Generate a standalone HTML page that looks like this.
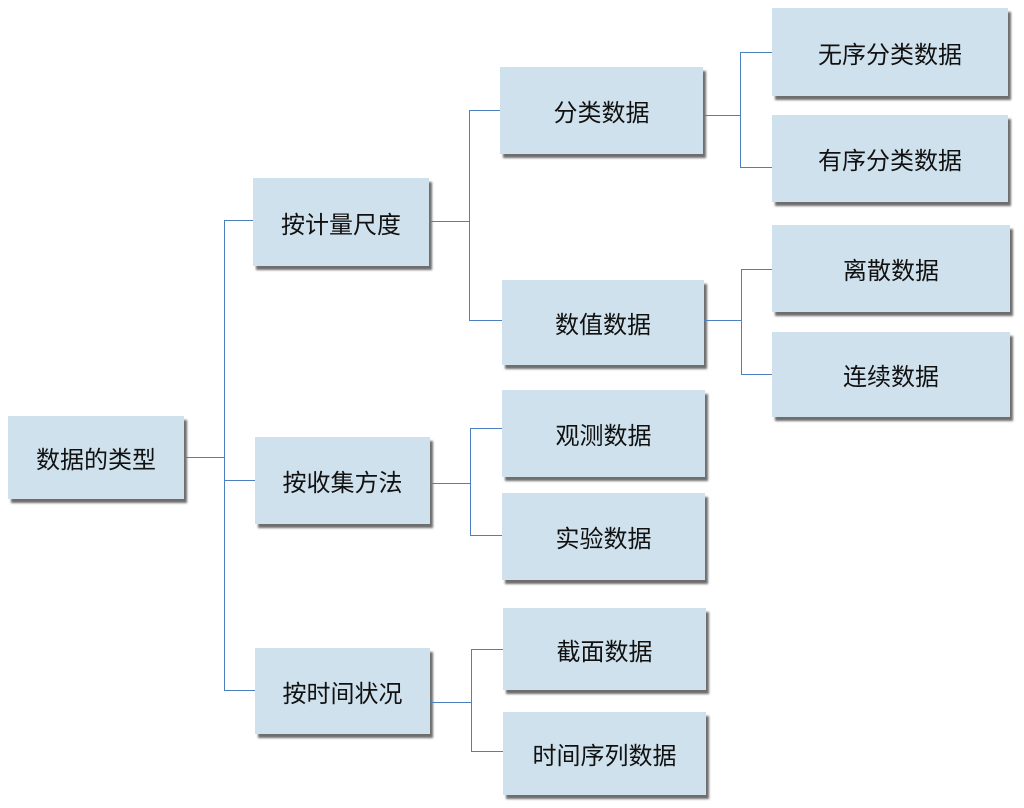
<!DOCTYPE html>
<html><head><meta charset="utf-8"><style>
html,body{margin:0;padding:0;background:#fff;}
body{width:1024px;height:808px;position:relative;overflow:hidden;font-family:"Liberation Sans","Noto Sans CJK SC",sans-serif;}
.b{position:absolute;background:#cfe1ec;box-shadow:3px 4px 2px #6e6e6e;display:flex;align-items:center;justify-content:center;font-size:24px;color:#111;box-sizing:border-box;}
.l{position:absolute;background:#4a7fc0;}
.h{height:1px}.v{width:1px}
</style></head><body>
<div class="b" style="left:8px;top:416px;width:176px;height:83px;">数据的类型</div>
<div class="b" style="left:253px;top:178px;width:176px;height:88px;">按计量尺度</div>
<div class="b" style="left:255px;top:437px;width:175px;height:87px;">按收集方法</div>
<div class="b" style="left:255px;top:648px;width:175px;height:86px;">按时间状况</div>
<div class="b" style="left:500px;top:67px;width:203px;height:87px;">分类数据</div>
<div class="b" style="left:502px;top:280px;width:202px;height:85px;">数值数据</div>
<div class="b" style="left:502px;top:390px;width:203px;height:87px;">观测数据</div>
<div class="b" style="left:502px;top:493px;width:203px;height:87px;">实验数据</div>
<div class="b" style="left:503px;top:608px;width:203px;height:82px;">截面数据</div>
<div class="b" style="left:503px;top:712px;width:203px;height:83px;">时间序列数据</div>
<div class="b" style="left:772px;top:8px;width:236px;height:88px;">无序分类数据</div>
<div class="b" style="left:772px;top:115px;width:236px;height:87px;">有序分类数据</div>
<div class="b" style="left:772px;top:225px;width:238px;height:87px;">离散数据</div>
<div class="b" style="left:772px;top:332px;width:238px;height:85px;">连续数据</div>

<div class="l h" style="left:184px;top:457px;width:40px"></div>
<div class="l v" style="left:224px;top:220px;height:470px"></div>
<div class="l h" style="left:224px;top:220px;width:29px"></div>
<div class="l h" style="left:224px;top:480px;width:31px"></div>
<div class="l h" style="left:224px;top:690px;width:31px"></div>

<div class="l h" style="left:429px;top:221px;width:40px"></div>
<div class="l v" style="left:469px;top:110px;height:210px"></div>
<div class="l h" style="left:469px;top:110px;width:31px"></div>
<div class="l h" style="left:469px;top:320px;width:33px"></div>

<div class="l h" style="left:430px;top:483px;width:40px"></div>
<div class="l v" style="left:470px;top:428px;height:107px"></div>
<div class="l h" style="left:470px;top:428px;width:32px"></div>
<div class="l h" style="left:470px;top:535px;width:32px"></div>

<div class="l h" style="left:430px;top:702px;width:41px"></div>
<div class="l v" style="left:471px;top:649px;height:102px"></div>
<div class="l h" style="left:471px;top:649px;width:32px"></div>
<div class="l h" style="left:471px;top:751px;width:32px"></div>

<div class="l h" style="left:703px;top:115px;width:37px"></div>
<div class="l v" style="left:740px;top:52px;height:115px"></div>
<div class="l h" style="left:740px;top:52px;width:32px"></div>
<div class="l h" style="left:740px;top:167px;width:32px"></div>

<div class="l h" style="left:704px;top:320px;width:37px"></div>
<div class="l v" style="left:741px;top:269px;height:105px"></div>
<div class="l h" style="left:741px;top:269px;width:31px"></div>
<div class="l h" style="left:741px;top:374px;width:31px"></div>
</body></html>
